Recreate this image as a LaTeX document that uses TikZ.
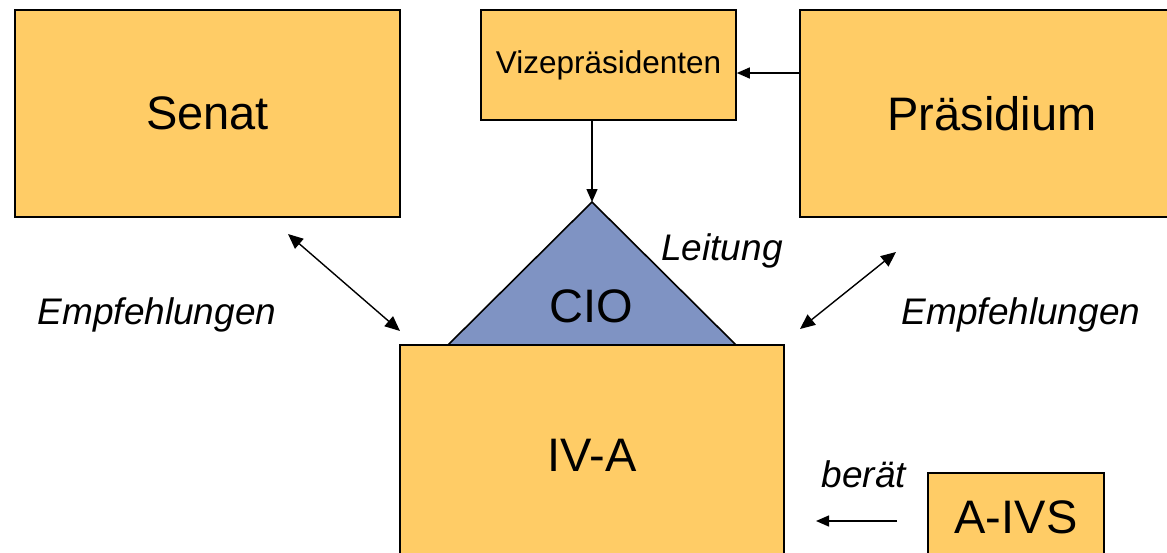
\documentclass[tikz,border=0pt]{standalone}
\usepackage{fontspec}
\setmainfont{Liberation Sans}
\usetikzlibrary{arrows.meta}
\definecolor{boxorange}{HTML}{FFCC66}
\definecolor{cioblue}{HTML}{7F93C3}
\tikzset{
  orgbox/.style={draw=black, line width=1.6pt, fill=boxorange, inner sep=0pt, font=\fontsize{47}{50}\selectfont},
  lbl/.style={font=\fontsize{37}{40}\selectfont\itshape, inner sep=0pt},
  conn/.style={line width=1.4pt, -{Triangle[length=13pt,width=11pt]}},
  dconn/.style={line width=1.4pt, {Triangle[length=15pt,width=13pt]}-{Triangle[length=15pt,width=13pt]}}
}
\begin{document}
\begin{tikzpicture}[x=1pt,y=-1pt]
\useasboundingbox (0,0) rectangle (1167,552);
% boxes
\node[orgbox, minimum width=385pt, minimum height=207pt] (senat) at (207.5,113.5) {Senat};
\node[orgbox, minimum width=384pt, minimum height=207pt] (praes) at (992,113.5) {Präsidium};
\node[orgbox, minimum width=255pt, minimum height=110pt, font=\fontsize{31.5}{34}\selectfont] (vize) at (608.5,65) {Vizepräsidenten};
\node[orgbox, minimum width=384pt, minimum height=220pt] (iva) at (592,455) {IV-A};
\node[orgbox, minimum width=176pt, minimum height=88pt] (aivs) at (1016,517) {A-IVS};
% CIO triangle
\coordinate (apex) at (592,202);
\coordinate (bl) at (448,345);
\coordinate (br) at (736,345);
\draw[line width=1.6pt, fill=cioblue, line join=miter] (bl) -- (apex) -- (br) -- cycle;
\node[font=\fontsize{47}{50}\selectfont, inner sep=0pt] (cio) at (591,306) {CIO};
% connectors
\draw[conn] (vize.south -| apex) -- (apex);
\draw[conn] (praes.west |- 0,73) -- (vize.east |- 0,73);
\coordinate (s1) at (288,234);
\coordinate (s2) at (400,331);
\draw[dconn] (s1) -- (s2);
\coordinate (p1) at (896,252);
\coordinate (p2) at (800,329);
\draw[dconn] (p1) -- (p2);
\coordinate (b1) at (897,521);
\coordinate (b2) at (816,521);
\draw[conn] (b1) -- (b2);
% labels
\node[lbl] (emp1) at (157,315) {Empfehlungen};
\node[lbl] (emp2) at (1021,315) {Empfehlungen};
\node[lbl] (leit) at (722,251) {Leitung};
\node[lbl] (berat) at (864,474) {berät};
\end{tikzpicture}
\end{document}
